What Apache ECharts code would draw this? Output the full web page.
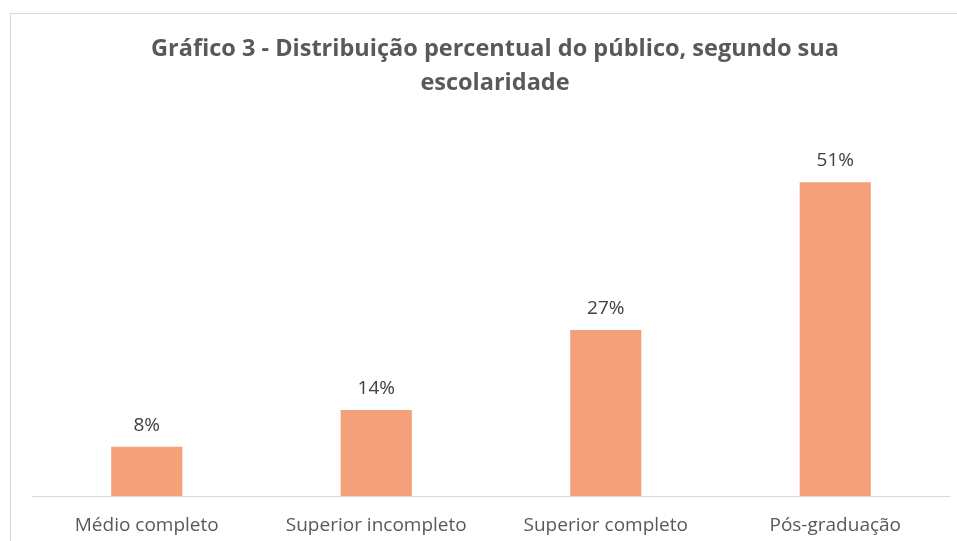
<!DOCTYPE html>
<html>
<head>
<meta charset="utf-8">
<script src="https://cdn.jsdelivr.net/npm/echarts@6/dist/echarts.min.js"></script>
<style>
  html, body { margin: 0; padding: 0; background: #fff; }
  .frame {
    position: absolute;
    left: 10px;
    top: 13px;
    width: 960px;
    height: 560px;
    border: 1px solid #d9d9d9;
  }
  #chart { position: absolute; left: 0; top: 0; width: 957px; height: 541px; }
</style>
</head>
<body>
<div class="frame"></div>
<div id="chart"></div>
<script>
const categories = ['Médio completo', 'Superior incompleto', 'Superior completo', 'Pós-graduação']
const percentValues = [8, 14, 27, 51]

var myChart = echarts.init(document.getElementById('chart'))
const option = {
  title: {
    text: 'Gráfico 3 - Distribuição percentual do público, segundo sua\nescolaridade',
    left: 490,
    textAlign: 'center',
    top: 27,
    textStyle: {
      fontFamily: 'Open Sans',
      fontSize: 23.5,
      fontWeight: 'bold',
      color: '#595959',
      lineHeight: 34
    }
  },
  grid: {
    left: 32,
    right: 7,
    top: 127,
    bottom: 45
  },
  xAxis: {
    type: 'category',
    data: categories,
    axisLine: {
      lineStyle: { color: '#d9d9d9', width: 1 }
    },
    axisTick: { show: false },
    axisLabel: {
      interval: 0,
      hideOverlap: false,
      margin: 20,
      fontFamily: 'Open Sans',
      fontSize: 19,
      color: '#595959'
    }
  },
  yAxis: {
    type: 'value',
    min: 0,
    max: 60,
    show: false
  },
  series: [{
    type: 'bar',
    data: percentValues,
    barWidth: '31%',
    itemStyle: {
      color: '#F4A07B'
    },
    label: {
      show: true,
      position: 'top',
      distance: 12,
      formatter: '{c}%',
      fontFamily: 'Open Sans',
      fontSize: 19,
      color: '#404040'
    }
  }]
}
myChart.setOption(option)
</script>
</body>
</html>
